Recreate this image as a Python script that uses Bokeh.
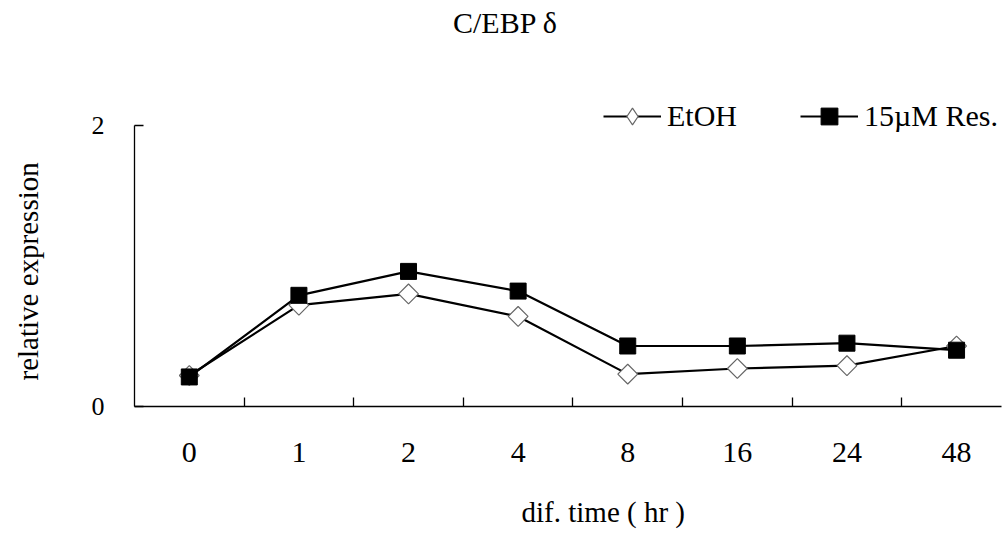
import math
from bokeh.plotting import figure
from bokeh.models import (FixedTicker, Legend, LegendItem, Label, ColumnDataSource, Title,
                          CDSView, IndexFilter, LinearAxis)
from bokeh.embed import file_html
from bokeh.resources import INLINE

# ---- data ----
times = ["0", "1", "2", "4", "8", "16", "24", "48"]
etoh = [0.22, 0.72, 0.80, 0.64, 0.23, 0.27, 0.29, 0.43]
res15 = [0.21, 0.79, 0.96, 0.82, 0.43, 0.43, 0.45, 0.40]
y_ticks = [0, 2]
series_names = ["EtOH", "15µM Res."]
title_text = "C/EBP δ"
x_title = "dif. time ( hr )"
y_title = "relative  expression"

FONT = "Liberation Serif"

xs = list(range(len(times)))
src = ColumnDataSource(dict(x=xs, etoh=etoh, res=res15))

p = figure(width=1003, height=533, output_backend="svg", toolbar_location=None,
           title=None,
           x_range=(-0.5, 7.41), y_range=(0, 2.885),
           min_border_left=134, min_border_right=2, min_border_top=0,
           min_border_bottom=127)
p.outline_line_color = None
p.grid.visible = False
p.background_fill_color = "white"
p.border_fill_color = "white"

# x axis
xa = p.xaxis[0]
xa.ticker = FixedTicker(ticks=xs, minor_ticks=[i + 0.5 for i in xs])
xa.major_label_overrides = {i: t for i, t in enumerate(times)}
xa.major_tick_in = 0
xa.major_tick_out = 0
xa.minor_tick_in = 9
xa.minor_tick_out = 0
xa.minor_tick_line_color = "black"
xa.minor_tick_line_width = 1.3
xa.axis_line_color = "black"
xa.axis_line_width = 1.3
xa.major_label_standoff = 36
xa.major_label_text_font = FONT
xa.major_label_text_font_size = "30px"
xa.major_label_text_color = "black"

# y axis
ya = p.yaxis[0]
ya.ticker = FixedTicker(ticks=y_ticks)
ya.bounds = (0, 2)
ya.major_tick_in = 9
ya.major_tick_out = 0
ya.major_tick_line_color = "black"
ya.major_tick_line_width = 1.3
ya.minor_tick_line_color = None
ya.axis_line_color = "black"
ya.axis_line_width = 1.3
ya.major_label_standoff = 30
ya.major_label_text_font = FONT
ya.major_label_text_font_size = "26px"
ya.major_label_text_color = "black"


def spacer(extent, at):
    # an invisible axis used only to reserve room between the tick labels and the title
    return LinearAxis(ticker=FixedTicker(ticks=[at]), major_tick_out=extent, major_tick_in=0,
                      major_tick_line_color="white", minor_tick_out=0, minor_tick_in=0,
                      minor_tick_line_color=None, axis_line_color=None,
                      major_label_standoff=0, major_label_overrides={at: ""},
                      major_label_text_font_size="0px")


p.add_layout(spacer(45, 1.0), "left")
p.add_layout(spacer(29, 3.5), "below")

# axis titles as side-panel titles so they can be offset like the reference
p.add_layout(Title(text=y_title, align="left", offset=26, standoff=0,
                   text_font=FONT, text_font_size="29px", text_font_style="normal",
                   text_color="black"), "left")
p.add_layout(Title(text=x_title, align="left", offset=387, standoff=0,
                   text_font=FONT, text_font_size="29px", text_font_style="normal",
                   text_color="black"), "below")

# series
l1 = p.line("x", "etoh", source=src, line_color="black", line_width=2.2)
s1 = p.scatter("x", "etoh", source=src, marker="square", angle=math.pi / 4, size=14,
               fill_color="white", line_color="#666666", line_width=1.2)
# diamond glyph for the legend (its single point is tiny and hidden under the first square)
s1_leg = p.scatter("x", "etoh", source=src, view=CDSView(filter=IndexFilter([0])),
                   marker="diamond", size=2, fill_color="white", line_color="#666666",
                   line_width=1.2)
l2 = p.line("x", "res", source=src, line_color="black", line_width=2.2)
s2 = p.scatter("x", "res", source=src, marker="square", size=16,
               fill_color="black", line_color="black")

legend = Legend(items=[LegendItem(label=series_names[0], renderers=[l1, s1_leg]),
                       LegendItem(label=series_names[1], renderers=[l2, s2])],
                location=(469, 269), orientation="horizontal",
                glyph_width=58, glyph_height=42, label_height=42,
                label_standoff=6, spacing=63, padding=0, margin=0,
                border_line_color=None, background_fill_alpha=0,
                label_text_font=FONT, label_text_font_size="30px",
                label_text_color="black")
p.add_layout(legend)

p.add_layout(Label(x=2.885, y=2.728, text=title_text, text_align="center",
                   text_baseline="middle", text_font=FONT, text_font_size="30px",
                   text_color="black"))

open("out.html", "w").write(file_html(p, INLINE))
